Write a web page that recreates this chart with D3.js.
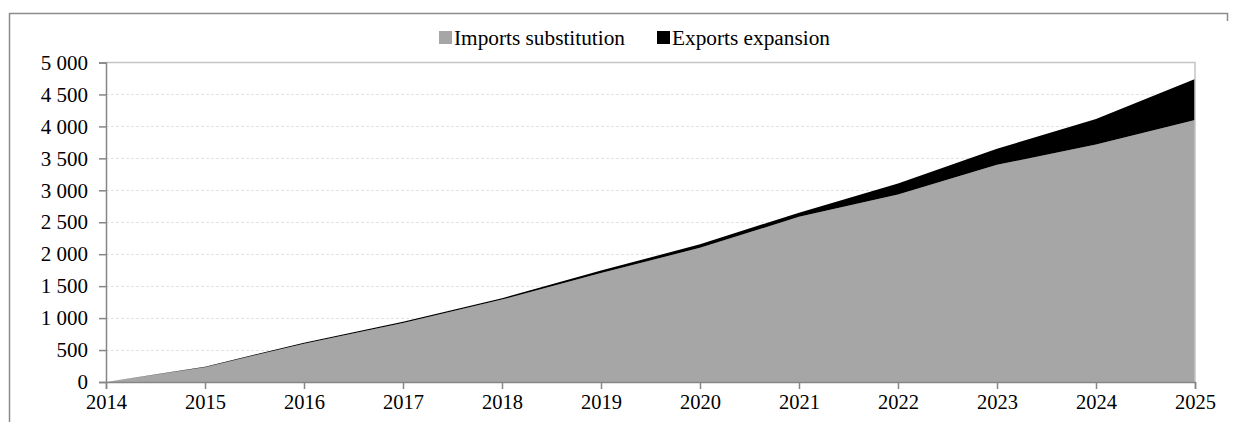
<!DOCTYPE html>
<html>
<head>
<meta charset="utf-8">
<script src="https://cdn.jsdelivr.net/npm/d3@7"></script>
<style>
  html, body { margin: 0; padding: 0; background: #fff; }
  svg { display: block; }
  text { font-family: "Liberation Serif", "Times New Roman", serif; fill: #000; }
</style>
</head>
<body>
<svg id="chart" width="1236" height="422"></svg>
<script>
// Years on the horizontal axis
const years = [2014, 2015, 2016, 2017, 2018, 2019, 2020, 2021, 2022, 2023, 2024, 2025];
// Stacked series values
const importsSubstitution = [0, 230, 600, 925, 1290, 1705, 2100, 2585, 2935, 3400, 3715, 4100];
const exportsExpansion    = [0, 10, 14, 18, 22, 38, 55, 65, 170, 250, 400, 640];
const seriesNames = ["Imports substitution", "Exports expansion"];
const seriesColors = ["#a6a6a6", "#000000"];
// Value axis ticks
const yTicks = [0, 500, 1000, 1500, 2000, 2500, 3000, 3500, 4000, 4500, 5000];

const svg = d3.select("#chart");
const plot = { left: 106, right: 1195, top: 62.5, bottom: 382 };

const x = d3.scaleLinear().domain([2014, 2025]).range([plot.left, plot.right]);
const y = d3.scaleLinear().domain([0, 5000]).range([plot.bottom, plot.top]);

// Thousands grouped with a non-breaking space
const fmt = v => d3.format(",")(v).replace(/,/g, "\u00a0");

// Outer frame (top and left edges, short right stub)
svg.append("path")
  .attr("d", "M9.5,422 L9.5,13.5 L1227.5,13.5 L1227.5,21")
  .attr("fill", "none").attr("stroke", "#8c8c8c").attr("stroke-width", 1.5);

// Dotted gridlines
svg.append("g").selectAll("line")
  .data(yTicks.filter(t => t > 0 && t < 5000))
  .join("line")
  .attr("x1", plot.left).attr("x2", plot.right)
  .attr("y1", d => Math.round(y(d)) + 0.5).attr("y2", d => Math.round(y(d)) + 0.5)
  .attr("stroke", "#e3e3e3").attr("stroke-width", 1).attr("stroke-dasharray", "3,2");

// Stacked areas
const rows = years.map((yr, i) => ({ year: yr, a: importsSubstitution[i], b: exportsExpansion[i] }));
const stack = d3.stack().keys(["a", "b"]);
const layers = stack(rows);
const area = d3.area()
  .x(d => x(d.data.year))
  .y0(d => y(d[0]))
  .y1(d => y(d[1]));
svg.append("g").selectAll("path")
  .data(layers)
  .join("path")
  .attr("d", area)
  .attr("fill", (d, i) => seriesColors[i]);

// Plot area border (top and right)
svg.append("path")
  .attr("d", `M${plot.left},${plot.top} L${plot.right},${plot.top} L${plot.right},${plot.bottom}`)
  .attr("fill", "none").attr("stroke", "#c4c4c4").attr("stroke-width", 1.5);

// Value axis
const yAxis = d3.axisLeft(y).tickValues(yTicks).tickFormat(fmt).tickSize(7).tickPadding(11);
const gy = svg.append("g").attr("transform", `translate(${plot.left},0)`).call(yAxis);
gy.select(".domain").attr("stroke", "#868686").attr("stroke-width", 1.5);
gy.selectAll(".tick line").attr("stroke", "#868686").attr("stroke-width", 1.5);
gy.selectAll(".tick text")
  .style("font-family", "'Liberation Serif', 'Times New Roman', serif")
  .style("font-size", "21px").attr("fill", "#000");

// Year axis
const xAxis = d3.axisBottom(x).tickValues(years).tickFormat(d3.format("d")).tickSize(7).tickPadding(5);
const gx = svg.append("g").attr("transform", `translate(0,${plot.bottom})`).call(xAxis);
gx.select(".domain").attr("stroke", "#868686").attr("stroke-width", 1.5);
gx.selectAll(".tick line").attr("stroke", "#868686").attr("stroke-width", 1.5);
gx.selectAll(".tick text")
  .style("font-family", "'Liberation Serif', 'Times New Roman', serif")
  .style("font-size", "20.5px").attr("fill", "#000");

// Legend
const legend = svg.append("g");
const legendItems = [
  { name: seriesNames[0], color: seriesColors[0], x: 439 },
  { name: seriesNames[1], color: seriesColors[1], x: 657 }
];
legendItems.forEach(it => {
  legend.append("rect")
    .attr("x", it.x).attr("y", 31).attr("width", 13).attr("height", 13)
    .attr("fill", it.color);
  legend.append("text")
    .attr("x", it.x + 15).attr("y", 45)
    .style("font-size", "21.3px")
    .text(it.name);
});
</script>
</body>
</html>
